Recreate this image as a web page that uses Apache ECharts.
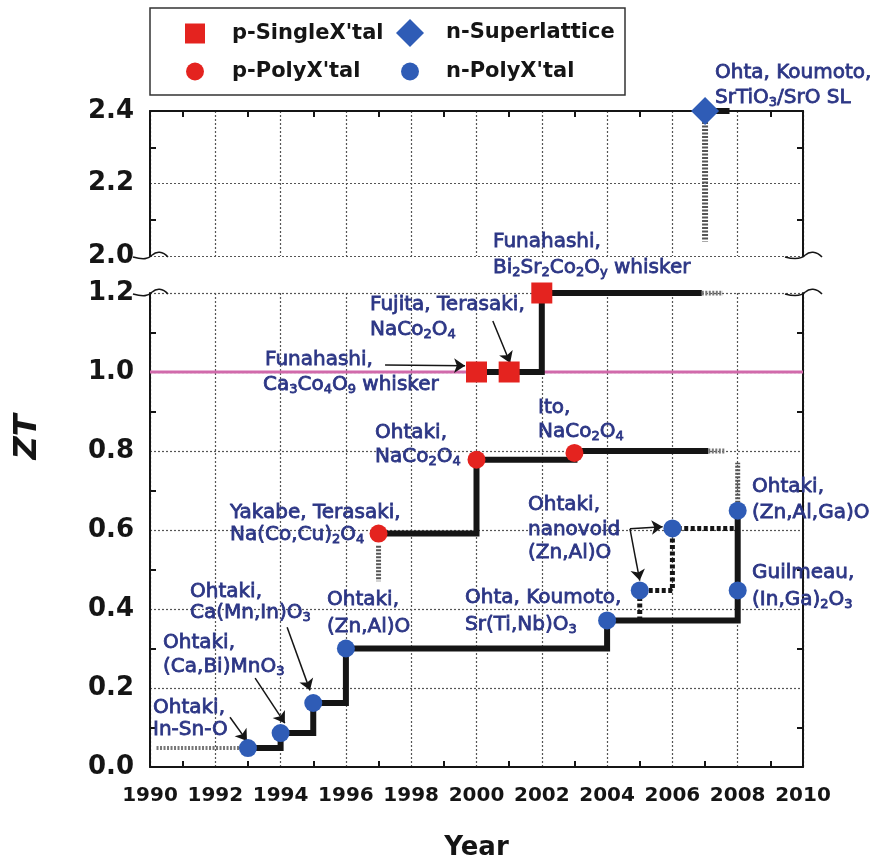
<!DOCTYPE html>
<html><head><meta charset="utf-8">
<script src="https://cdn.jsdelivr.net/npm/echarts@6/dist/echarts.min.js"></script>
<style>html,body{margin:0;padding:0;background:#fff}#c{width:880px;height:862px}</style>
</head><body><div id="c"></div>
<script>
// ---------- data ----------
const yearMin = 1990, yearMax = 2010, yearStep = 2;
const upperRange = [2.0, 2.4];
const lowerRange = [0.0, 1.2];
const legendNames = ["p-SingleX'tal", "n-Superlattice", "p-PolyX'tal", "n-PolyX'tal"];

// markers
const pSingle = [[2000, 1.0], [2001, 1.0], [2002, 1.2]];
const nSuper = [[2007, 2.4]];
const pPoly = [[1997, 0.591], [2000, 0.778], [2003, 0.795]];
const nPoly = [[1993, 0.048], [1994, 0.086], [1995, 0.162], [1996, 0.30], [2004, 0.371],
               [2005, 0.447], [2006, 0.604], [2008, 0.447], [2008, 0.649]];

// record-progress step lines
const nPolyStep = [[1993, 0.048], [1994, 0.048], [1994, 0.086], [1995, 0.086], [1995, 0.162], [1996, 0.162],
                   [1996, 0.30], [2004, 0.30], [2004, 0.371], [2008, 0.371], [2008, 0.649]];
const nPolyLeadIn = [[1990.2, 0.048], [1993, 0.048]];
const nPolyTail = [[2008, 0.66], [2008, 0.77]];
const nanovoidPath = [[2005, 0.371], [2005, 0.447], [2006, 0.447], [2006, 0.604], [2008, 0.604]];
const pPolyStep = [[1997, 0.591], [2000, 0.591], [2000, 0.778], [2003, 0.778], [2003, 0.80], [2007.1, 0.80]];
const pPolyTail = [[2007.1, 0.80], [2007.6, 0.80]];
const pPolyDrop = [[1997, 0.56], [1997, 0.47]];
const pSingleStep = [[2000, 1.0], [2002, 1.0], [2002, 1.2], [2006.9, 1.2]];
const pSingleTail = [[2006.9, 1.2], [2007.55, 1.2]];
const superStep = [[2007, 2.4], [2007.75, 2.4]];
const superDrop = [[2007, 2.37], [2007, 2.04]];
const refLine = [[1990, 1.0], [2010, 1.0]];

// annotation arrows [from, to] in (year, ZT)
const arrows = [
  [[1992.45, 0.126], [1992.97, 0.066]],
  [[1993.22, 0.225], [1994.13, 0.111]],
  [[1994.2, 0.354], [1994.9, 0.194]],
  [[2000.5, 1.129], [2001.03, 1.023]],
  [[1997.2, 1.018], [1999.65, 1.016]],
  [[2004.7, 0.603], [2005.7, 0.608]],
  [[2004.7, 0.603], [2005.0, 0.472]]
];

// annotation text lines: [text, left px, center px]
const notes = [
  ["Ohta, Koumoto,", 715, 73], ["SrTiO{s|3}/SrO SL", 715, 98],
  ["Funahashi,", 493, 242], ["Bi{s|2}Sr{s|2}Co{s|2}O{s|y} whisker", 493, 268],
  ["Fujita, Terasaki,", 370, 305], ["NaCo{s|2}O{s|4}", 370, 330],
  ["Funahashi,", 265, 360], ["Ca{s|3}Co{s|4}O{s|9} whisker", 263, 385],
  ["Ohtaki,", 375, 433], ["NaCo{s|2}O{s|4}", 375, 457],
  ["Ito,", 538, 408], ["NaCo{s|2}O{s|4}", 538, 432],
  ["Yakabe, Terasaki,", 230, 513], ["Na(Co,Cu){s|2}O{s|4}", 230, 535],
  ["Ohtaki,", 190, 592], ["Ca(Mn,In)O{s|3}", 190, 613],
  ["Ohtaki,", 327, 600], ["(Zn,Al)O", 327, 627],
  ["Ohtaki,", 163, 643], ["(Ca,Bi)MnO{s|3}", 163, 667],
  ["Ohtaki,", 153, 708], ["In-Sn-O", 153, 730],
  ["Ohtaki,", 528, 505], ["nanovoid", 528, 530], ["(Zn,Al)O", 528, 553],
  ["Ohta, Koumoto,", 465, 598], ["Sr(Ti,Nb)O{s|3}", 465, 625],
  ["Ohtaki,", 752, 487], ["(Zn,Al,Ga)O", 752, 513],
  ["Guilmeau,", 752, 573], ["(In,Ga){s|2}O{s|3}", 752, 600]
];

// ---------- style ----------
const FONT = '"DejaVu Sans"';
const NAVY = '#2c3685';
const RED = '#e4231f';
const BLUE = '#2f5cb6';
const INK = '#151515';

const chart = echarts.init(document.getElementById('c'));
const splitLine = {show: true, lineStyle: {color: '#555', type: [2, 2], width: 1.2}};
const axisLine = {show: true, onZero: false, lineStyle: {color: INK, width: 2}};
const minorTick = {show: true, splitNumber: 2, length: 6, lineStyle: {color: INK, width: 2}};
const noTick = {show: false, inside: true};
const yLab = {show: true, fontFamily: FONT, fontWeight: 'bold', fontSize: 26, color: INK, margin: 16,
              formatter: v => v.toFixed(1)};

function stepLine(data, xi, yi, color, width, type, z) {
  return {type: 'line', data, xAxisIndex: xi, yAxisIndex: yi, showSymbol: false, symbol: 'none',
          silent: true, z: z || 3, lineStyle: {color, width, type: type || 'solid', cap: 'butt', join: 'miter'}};
}
const hatch = [2, 1.5];

const series = [
  stepLine(refLine, 1, 2, '#d16aab', 3, 'solid', 2),
  stepLine(nPolyLeadIn, 1, 2, '#777', 4, hatch),
  Object.assign(stepLine(nPolyStep, 1, 2, INK, 6), {
    markLine: {silent: true, symbol: ['none', 'arrow'], symbolSize: 11, animation: false,
      label: {show: false}, lineStyle: {color: INK, width: 1.5, type: 'solid'},
      emphasis: {disabled: true},
      data: arrows.map(a => [{coord: a[0]}, {coord: a[1]}])}
  }),
  stepLine(nPolyTail, 1, 2, '#555', 5, hatch),
  stepLine(nanovoidPath, 1, 2, INK, 5, [4, 2.5]),
  stepLine(pPolyStep, 1, 2, INK, 6),
  stepLine(pPolyTail, 1, 2, '#777', 5, hatch),
  stepLine(pPolyDrop, 1, 2, '#555', 5, hatch),
  stepLine(pSingleStep, 1, 2, INK, 6),
  stepLine(pSingleTail, 1, 2, '#777', 5, hatch),
  stepLine(superStep, 0, 0, INK, 6),
  stepLine(superDrop, 0, 0, '#555', 6, hatch),
  {type: 'scatter', name: legendNames[0], data: pSingle, xAxisIndex: 1, yAxisIndex: 2, symbol: 'rect',
   symbolSize: 21, itemStyle: {color: RED, opacity: 1}, z: 5},
  {type: 'scatter', name: legendNames[1], data: nSuper, xAxisIndex: 0, yAxisIndex: 0, symbol: 'diamond',
   symbolSize: 28, itemStyle: {color: BLUE, opacity: 1}, z: 5},
  {type: 'scatter', name: legendNames[2], data: pPoly, xAxisIndex: 1, yAxisIndex: 2, symbol: 'circle',
   symbolSize: 18, itemStyle: {color: RED, opacity: 1}, z: 5},
  {type: 'scatter', name: legendNames[3], data: nPoly, xAxisIndex: 1, yAxisIndex: 2, symbol: 'circle',
   symbolSize: 18, itemStyle: {color: BLUE, opacity: 1}, z: 5}
];

const legTxt = {fontFamily: FONT, fontWeight: 'bold', fontSize: 21, color: INK};
function leg(name, icon, size, left, top, pad) {
  return {data: [{name, icon}], left, top, itemWidth: size, itemHeight: size, padding: 0,
          selectedMode: false, itemStyle: {opacity: 1}, textStyle: Object.assign({padding: [0, 0, 0, pad]}, legTxt)};
}

chart.setOption({
  animation: false,
  backgroundColor: '#fff',
  grid: [{left: 150, top: 111, width: 653, height: 145, outerBoundsMode: 'none', containLabel: false},
         {left: 150, top: 293, width: 653, height: 474, outerBoundsMode: 'none', containLabel: false}],
  xAxis: [
    {gridIndex: 0, type: 'value', position: 'top', min: yearMin, max: yearMax, interval: yearStep,
     axisLine, axisTick: noTick, minorTick, axisLabel: {show: false}, splitLine},
    {gridIndex: 1, type: 'value', position: 'bottom', min: yearMin, max: yearMax, interval: yearStep,
     axisLine, axisTick: noTick, minorTick, splitLine,
     axisLabel: {show: true, fontFamily: FONT, fontWeight: 'bold', fontSize: 20, color: INK, margin: 19,
                 formatter: v => String(v)},
     name: 'Year', nameLocation: 'middle', nameGap: 68,
     nameTextStyle: {fontFamily: FONT, fontWeight: 'bold', fontSize: 26, color: INK}}
  ],
  yAxis: [
    {gridIndex: 0, type: 'value', position: 'left', min: upperRange[0], max: upperRange[1], interval: 0.2,
     axisLine, axisTick: noTick, minorTick, axisLabel: yLab, splitLine},
    {gridIndex: 0, type: 'value', position: 'right', min: upperRange[0], max: upperRange[1], interval: 0.2,
     axisLine, axisTick: noTick, minorTick, axisLabel: {show: false}, splitLine: {show: false}},
    {gridIndex: 1, type: 'value', position: 'left', min: lowerRange[0], max: lowerRange[1], interval: 0.2,
     axisLine, axisTick: noTick, minorTick, axisLabel: yLab, splitLine},
    {gridIndex: 1, type: 'value', position: 'right', min: lowerRange[0], max: lowerRange[1], interval: 0.2,
     axisLine, axisTick: noTick, minorTick, axisLabel: {show: false}, splitLine: {show: false}}
  ],
  legend: [
    leg(legendNames[0], 'rect', 20, 185, 23, 22),
    leg(legendNames[1], 'diamond', 28, 396, 19, 17),
    leg(legendNames[2], 'circle', 18, 186, 61, 23),
    leg(legendNames[3], 'circle', 18, 401, 61, 22)
  ],
  series
});

// ---------- decorations ----------
const px = (xi, v) => chart.convertToPixel({xAxisIndex: xi}, v);
const py = (yi, v) => chart.convertToPixel({yAxisIndex: yi}, v);
const xL = px(1, yearMin), xR = px(1, yearMax);
const yBreaks = [py(0, upperRange[0]), py(2, lowerRange[1])];

function squiggle(a, y, w) {
  const m = a + w * 0.55, b = a + w;
  const st = {fill: 'none', stroke: INK, lineWidth: 1.6};
  return [
    {type: 'bezierCurve', z: 10, style: st,
     shape: {x1: a, y1: y + 1, x2: m, y2: y - 1, cpx1: a + w * 0.3, cpy1: y + 4, cpx2: m - 4, cpy2: y + 3}},
    {type: 'bezierCurve', z: 10, style: st,
     shape: {x1: m, y1: y - 1, x2: b, y2: y + 1, cpx1: m + 4, cpy1: y - 5, cpx2: a + w * 0.85, cpy2: y - 5}}
  ];
}
const graphic = [
  {type: 'rect', shape: {x: 150, y: 8, width: 475, height: 87}, style: {fill: 'none', stroke: '#333', lineWidth: 1.5}, z: 10},
  {type: 'text', x: 28, y: 437, rotation: Math.PI / 2,
   style: {text: 'ZT', font: 'italic bold 32px ' + FONT, fill: INK, align: 'center', verticalAlign: 'middle'}}
];
yBreaks.forEach(y => {
  graphic.push(...squiggle(xL - 17, y, 35));
  graphic.push(...squiggle(xR - 18, y, 37));
});
notes.forEach(n => {
  graphic.push({type: 'text', x: n[1], y: n[2], z: 20,
    style: {text: n[0], font: '20px ' + FONT, fill: NAVY, stroke: NAVY, lineWidth: 0.8,
            align: 'left', verticalAlign: 'middle',
            rich: {s: {font: '13px ' + FONT, fill: NAVY, padding: [10, 0, 0, 0]}}}});
});
chart.setOption({graphic});
</script>
</body></html>
